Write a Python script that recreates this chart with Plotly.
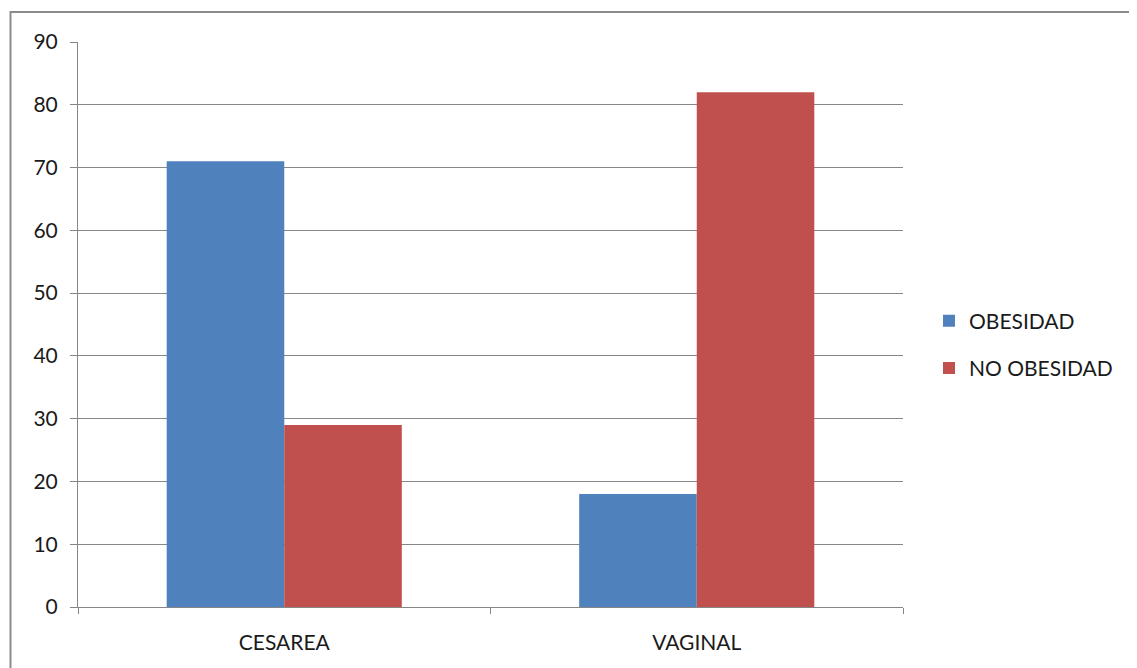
import plotly.graph_objects as go

categories = ["CESAREA", "VAGINAL"]
obesidad = [71, 18]
no_obesidad = [29, 82]
y_ticks = [0, 10, 20, 30, 40, 50, 60, 70, 80, 90]

# page body has an 8px margin; figure is sized to fit the window
W, H = 1129, 660
L, R, T, B = 70, 234, 34, 61
pw, ph = W - L - R, H - T - B

fig = go.Figure()
fig.add_trace(go.Bar(name="OBESIDAD", x=categories, y=obesidad,
                     marker=dict(color="#4F81BD", line=dict(width=0)), legendgroup="a"))
fig.add_trace(go.Bar(name="NO OBESIDAD", x=categories, y=no_obesidad,
                     marker=dict(color="#C0504D", line=dict(width=0)), legendgroup="b"))

font = dict(family="Lato, Open Sans, sans-serif", size=21, color="#1a1a1a")

fig.update_layout(
    width=W, height=H,
    margin=dict(l=L, r=R, t=T, b=B, pad=0),
    paper_bgcolor="white", plot_bgcolor="white",
    barmode="group", bargap=0.43, bargroupgap=0,
    font=font,
    showlegend=True,
    legend=dict(x=(921 - L) / pw, y=0.5 - 20 / ph, xanchor="left", yanchor="middle",
                tracegroupgap=17, font=font, itemwidth=30,
                bgcolor="rgba(0,0,0,0)"),
    xaxis=dict(showline=True, linecolor="#868686", linewidth=1,
               ticks="outside", tickson="boundaries", ticklen=6, tickcolor="#868686",
               ticklabelstandoff=17, showgrid=False, tickfont=font),
    yaxis=dict(range=[0, 90], tickvals=y_ticks, showline=True, linecolor="#868686",
               linewidth=1, ticks="outside", ticklen=7, tickcolor="#868686",
               gridcolor="#868686", gridwidth=1, zeroline=False,
               ticklabelstandoff=8, tickfont=font),
    shapes=[dict(type="rect", xref="paper", yref="paper",
                 x0=(2.5 - L) / pw, x1=1.5, y0=-0.5, y1=(H - B - 4) / ph,
                 line=dict(color="#8c8c8c", width=2), fillcolor="rgba(0,0,0,0)",
                 layer="below")],
)

fig.write_html("out.html")
